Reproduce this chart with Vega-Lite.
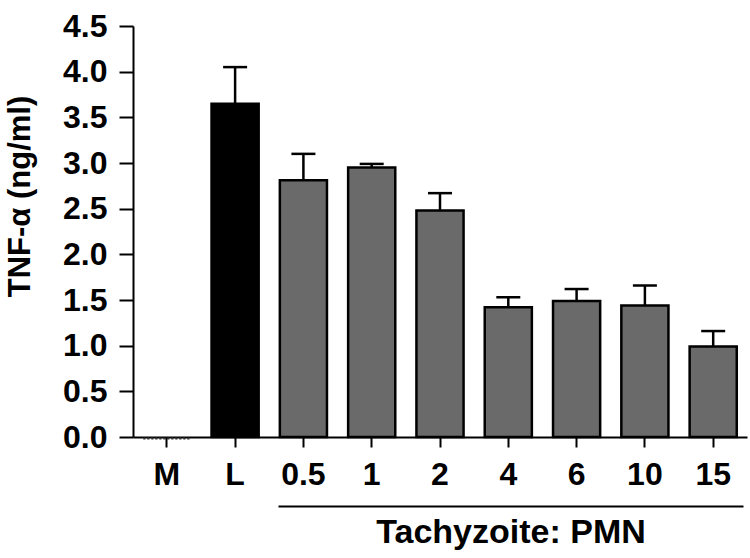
{
  "$schema": "https://vega.github.io/schema/vega-lite/v6.json",
  "width": 614,
  "height": 411,
  "autosize": {"type": "none"},
  "padding": {"left": 133, "top": 26, "right": 3, "bottom": 121},
  "background": "white",
  "config": {
    "view": {"stroke": null},
    "font": "Liberation Sans",
    "axis": {"grid": false, "domainColor": "black", "tickColor": "black", "labelColor": "black", "titleColor": "black", "domainWidth": 2, "tickWidth": 2, "labelFont": "Liberation Sans", "titleFont": "Liberation Sans", "labelFontWeight": "bold", "titleFontWeight": "bold"}
  },
  "data": {"values": [
    {"group": "M", "mean": 0, "upper": null, "kind": "medium"},
    {"group": "L", "mean": 3.65, "upper": 4.05, "kind": "lps"},
    {"group": "0.5", "mean": 2.81, "upper": 3.10, "kind": "tachy"},
    {"group": "1", "mean": 2.95, "upper": 2.99, "kind": "tachy"},
    {"group": "2", "mean": 2.48, "upper": 2.67, "kind": "tachy"},
    {"group": "4", "mean": 1.42, "upper": 1.53, "kind": "tachy"},
    {"group": "6", "mean": 1.49, "upper": 1.62, "kind": "tachy"},
    {"group": "10", "mean": 1.44, "upper": 1.66, "kind": "tachy"},
    {"group": "15", "mean": 0.99, "upper": 1.16, "kind": "tachy"}
  ]},
  "resolve": {"scale": {"x": "independent"}, "axis": {"x": "independent"}},
  "layer": [
    {
      "encoding": {
        "x": {"field": "group", "type": "nominal", "sort": null,
          "scale": {"domain": ["M", "L", "0.5", "1", "2", "4", "6", "10", "15"], "paddingInner": 0.31, "paddingOuter": 0.15},
          "axis": {"orient": "bottom", "title": null, "labelAngle": 0, "labelFontSize": 32, "labelPadding": 12, "tickSize": 10, "labelBaseline": "top"}},
        "y": {"field": "mean", "type": "quantitative",
          "scale": {"domain": [0, 4.5], "nice": false, "zero": true},
          "axis": {"title": "TNF-α (ng/ml)", "values": [0, 0.5, 1, 1.5, 2, 2.5, 3, 3.5, 4, 4.5], "format": ".1f", "labelFontSize": 32, "labelPadding": 12, "tickSize": 14, "titleFontSize": 31, "titlePadding": 26, "titleY": 170}}
      },
      "layer": [
        {
          "transform": [{"filter": "datum.kind != 'medium'"}],
          "mark": {"type": "bar", "stroke": "black", "strokeWidth": 2.5},
          "encoding": {
            "color": {"field": "kind", "type": "nominal", "scale": {"domain": ["lps", "tachy"], "range": ["#000000", "#6a6a6a"]}, "legend": null}
          }
        },
        {
          "transform": [{"filter": "datum.kind == 'medium'"}],
          "mark": {"type": "bar", "fill": "white", "stroke": "#333333", "strokeWidth": 2, "strokeDash": [2, 2], "yOffset": 1.5, "y2Offset": 1.5},
          "encoding": {}
        },
        {
          "transform": [{"filter": "datum.upper != null"}],
          "mark": {"type": "rule", "color": "black", "strokeWidth": 2.5},
          "encoding": {"y2": {"field": "upper"}}
        },
        {
          "transform": [{"filter": "datum.upper != null"}],
          "mark": {"type": "tick", "color": "black", "thickness": 2.5, "size": 24, "opacity": 1},
          "encoding": {"y": {"field": "upper", "type": "quantitative"}}
        }
      ]
    },
    {
      "transform": [{"filter": "datum.kind == 'tachy'"}],
      "mark": {"type": "rule", "opacity": 0},
      "encoding": {
        "x": {"field": "group", "type": "nominal", "sort": null,
          "scale": {"range": [145, 610]},
          "axis": {"orient": "bottom", "offset": 69, "labels": false, "ticks": false, "title": "Tachyzoite: PMN", "titleFontSize": 34, "titlePadding": 9}}
      }
    }
  ]
}
